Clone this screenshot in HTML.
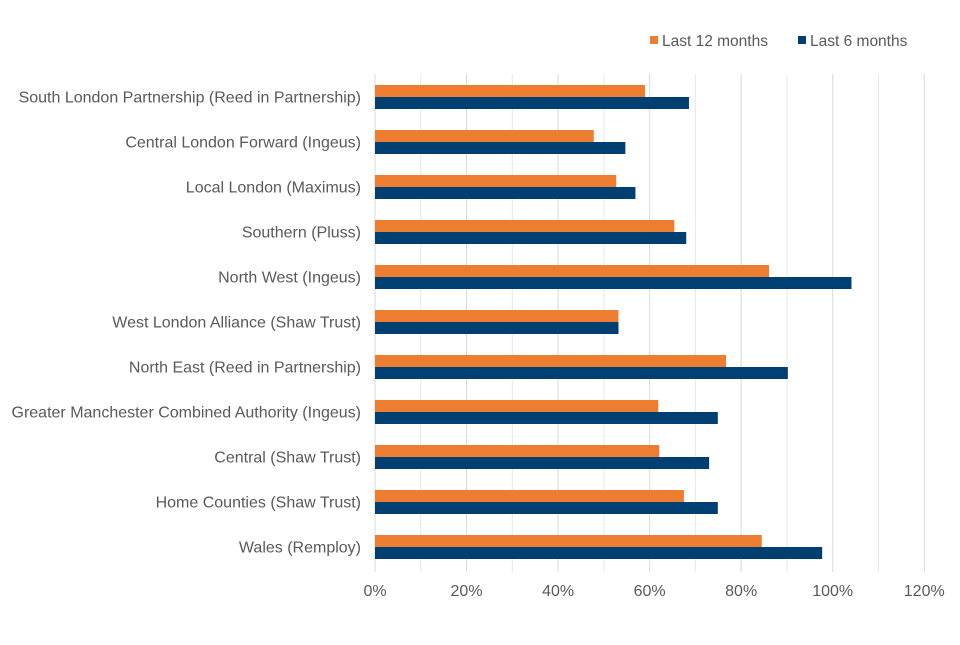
<!DOCTYPE html>
<html><head><meta charset="utf-8"><style>
body{margin:0;background:#fff}
svg text{font-family:"Liberation Sans",Arial,sans-serif;fill:#595959;font-size:16px}
</style></head><body>
<svg id="chart" width="960" height="640" xmlns="http://www.w3.org/2000/svg">
<g id="grid"></g><g id="bars"></g><g id="ylabels"></g><g id="xlabels"></g>
<g>
<rect x="650" y="36" width="8" height="8" fill="#ED7D31"/>
<text x="662" y="46" style="font-size:15.5px">Last 12 months</text>
<rect x="798" y="36" width="8" height="8" fill="#003F72"/>
<text x="810" y="46" style="font-size:15.5px">Last 6 months</text>
</g>
</svg>
<script>
const categories=["South London Partnership (Reed in Partnership)","Central London Forward (Ingeus)","Local London (Maximus)","Southern (Pluss)","North West (Ingeus)","West London Alliance (Shaw Trust)","North East (Reed in Partnership)","Greater Manchester Combined Authority (Ingeus)","Central (Shaw Trust)","Home Counties (Shaw Trust)","Wales (Remploy)"];
const last12=[59.0,47.8,52.7,65.4,86.1,53.2,76.7,61.9,62.1,67.5,84.5];
const last6=[68.6,54.7,56.9,68.0,104.1,53.2,90.2,74.9,73.0,74.9,97.7];
const ticks=[0,20,40,60,80,100,120];
const NS="http://www.w3.org/2000/svg";
const x0=375,pxPer=4.577,plotTop=74,band=45,bh=12;
const xs=v=>x0+v*pxPer;
function mk(t,a,p){const e=document.createElementNS(NS,t);for(const k in a)e.setAttribute(k,a[k]);p.appendChild(e);return e;}
const grid=document.getElementById('grid');
for(let v=0;v<=120;v+=10){
 const l=mk('line',{x1:xs(v),x2:xs(v),y1:plotTop,y2:572,stroke:(v%20===0)?'#d9d9d9':'#e8e8e8','stroke-width':1},grid);
 
 
}
const bars=document.getElementById('bars'),yl=document.getElementById('ylabels'),xl=document.getElementById('xlabels');
categories.forEach((c,i)=>{
 const cy=plotTop+band*i+band/2+0.5;
 const a=mk('rect',{x:x0,y:cy-bh,width:xs(last12[i])-x0,height:bh,fill:'#ED7D31'},bars);
 
 
 const b=mk('rect',{x:x0,y:cy,width:xs(last6[i])-x0,height:bh,fill:'#003F72'},bars);
 
 
 const t=mk('text',{x:361,y:cy+5.5,'text-anchor':'end'},yl);t.textContent=c;
 
 
});
ticks.forEach(v=>{
 const t=mk('text',{x:xs(v),y:596,'text-anchor':'middle'},xl);t.textContent=v+'%';
 
 
});
</script>
</body></html>
